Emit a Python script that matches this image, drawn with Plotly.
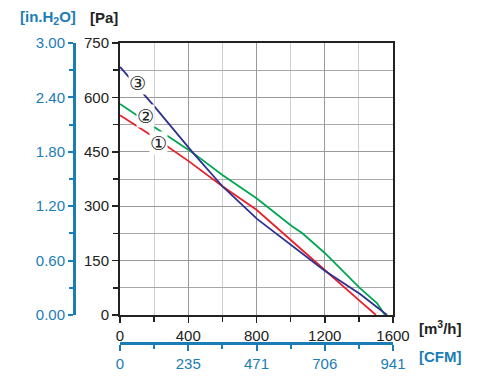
import plotly.graph_objects as go

# ---- data (airflow m3/h, static pressure Pa) ----
c1_x = [0, 200, 400, 600, 800, 1000, 1200, 1400, 1500]
c1_y = [551, 490, 425, 355, 290, 208, 124, 41, 0]

c2_x = [0, 200, 428, 600, 800, 1008, 1067, 1200, 1406, 1506, 1553]
c2_y = [582, 520, 447, 386, 322, 245, 226, 171, 74, 33, 0]

c3_x = [0, 200, 428, 604, 803, 1026, 1200, 1407, 1565]
c3_y = [684, 576, 447, 353, 265, 185, 122, 58, 0]

pa_ticks = [0, 150, 300, 450, 600, 750]
inh2o_ticks = [0.0, 0.6, 1.2, 1.8, 2.4, 3.0]
inh2o_labels = ["0.00", "0.60", "1.20", "1.80", "2.40", "3.00"]
m3h_ticks = [0, 400, 800, 1200, 1600]
cfm_labels = ["0", "235", "471", "706", "941"]

RED = "#e8202a"
GREEN = "#00a651"
NAVY = "#2e3192"
BLUE = "#1b7db5"
FONT = "Liberation Sans, Arial, sans-serif"

W, H = 491, 387
def px(v):
    return v / W
def py(v):
    return 1 - v / H

fig = go.Figure()
for xs, ys, col in [(c1_x, c1_y, RED), (c2_x, c2_y, GREEN), (c3_x, c3_y, NAVY)]:
    fig.add_trace(go.Scatter(x=xs, y=ys, mode="lines",
                             line=dict(color=col, width=1.8),
                             hoverinfo="skip", showlegend=False))
# empty trace to activate secondary axes
fig.add_trace(go.Scatter(x=[None], y=[None], xaxis="x2", yaxis="y2",
                         mode="lines", showlegend=False, hoverinfo="skip"))

fig.update_layout(
    template="none",
    width=W, height=H,
    margin=dict(l=0, r=0, t=0, b=0),
    paper_bgcolor="white", plot_bgcolor="white",
    font=dict(family=FONT, size=15, color="#222"),
    xaxis=dict(domain=[px(120), px(393)], range=[0, 1600], automargin=False,
               tickvals=m3h_ticks, ticks="outside", ticklen=6, tickwidth=1.5,
               tickcolor="#222", showline=True, linecolor="#222", linewidth=2,
               mirror=True, showgrid=True, gridcolor="#9a9a9a", gridwidth=1,
               minor=dict(dtick=200, tick0=0, ticks="outside", ticklen=5,
                          tickcolor="#222", showgrid=True, gridcolor="#cfcfcf"),
               zeroline=False, fixedrange=True),
    yaxis=dict(domain=[py(315), py(43)], range=[0, 750], automargin=False,
               tickvals=pa_ticks, ticks="outside", ticklen=6, tickwidth=1.5,
               tickcolor="#222", showline=True, linecolor="#222", linewidth=2,
               mirror=True, showgrid=True, gridcolor="#9a9a9a", gridwidth=1,
               minor=dict(dtick=75, tick0=0, ticks="outside", ticklen=5,
                          tickcolor="#222", showgrid=True, gridcolor="#a8a8a8"),
               zeroline=False, fixedrange=True),
    yaxis2=dict(overlaying="y", anchor="free", position=px(74), side="left",
                range=[0, 3], tickvals=inh2o_ticks, ticktext=inh2o_labels,
                automargin=False,
                ticks="outside", ticklen=5, tickwidth=2, tickcolor=BLUE,
                showline=True, linecolor=BLUE, linewidth=2.5,
                tickfont=dict(color=BLUE, size=15),
                minor=dict(dtick=0.3, tick0=0, ticks="outside", ticklen=4,
                           tickcolor=BLUE, tickwidth=2),
                showgrid=False, zeroline=False, fixedrange=True),
    xaxis2=dict(overlaying="x", anchor="free", position=py(343), side="bottom",
                range=[0, 1600], tickvals=m3h_ticks, ticktext=cfm_labels,
                automargin=False,
                ticks="outside", ticklen=6, tickwidth=2, tickcolor=BLUE,
                showline=True, linecolor=BLUE, linewidth=2.5,
                tickfont=dict(color=BLUE, size=15),
                minor=dict(dtick=200, tick0=0, ticks="outside", ticklen=4,
                           tickcolor=BLUE, tickwidth=2),
                showgrid=False, zeroline=False, fixedrange=True),
)

ann = [
    dict(x=48, y=17, text="[in.H<sub>2</sub>O]", color=BLUE),
    dict(x=104, y=17, text="[Pa]", color="#222"),
    dict(x=440, y=327, text="[m<sup>3</sup>/h]", color="#222"),
    dict(x=440, y=356, text="[CFM]", color=BLUE),
]
for a in ann:
    fig.add_annotation(x=px(a["x"]), y=py(a["y"]), xref="paper", yref="paper",
                       xanchor="center", yanchor="middle",
                       text="<b>" + a["text"] + "</b>", showarrow=False,
                       font=dict(family=FONT, size=15, color=a["color"]))

labels = [("①", 228, 474), ("②", 152, 549), ("③", 100, 640)]
for t, xv, yv in labels:
    fig.add_annotation(x=xv, y=yv, xref="x", yref="y", text=t, showarrow=False,
                       xanchor="center", yanchor="middle",
                       bgcolor="white", borderpad=0,
                       font=dict(family="DejaVu Sans", size=19, color="#222"))

fig.write_html("out.html",
               config={"displayModeBar": False, "staticPlot": True},
               post_script="document.body.style.margin='0';document.body.style.padding='0';")
